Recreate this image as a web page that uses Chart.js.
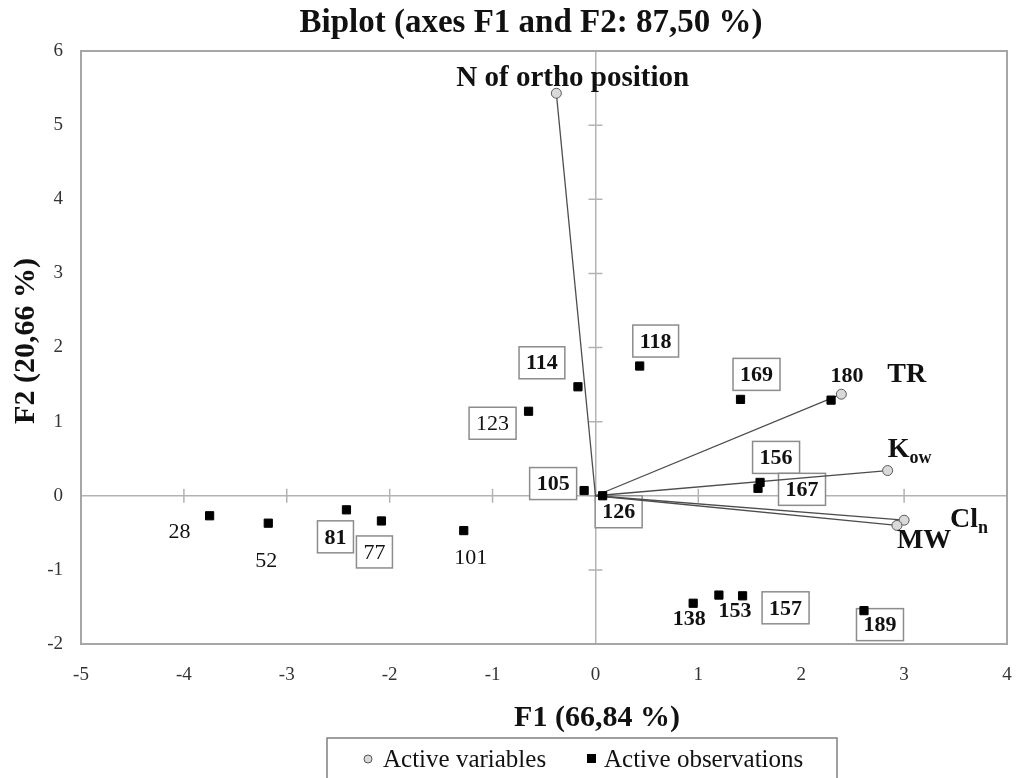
<!DOCTYPE html>
<html>
<head>
<meta charset="utf-8">
<script src="https://cdn.jsdelivr.net/npm/chart.js@4.4.1/dist/chart.umd.min.js"></script>
<style>
  html, body { margin: 0; padding: 0; background: #fff; }
  canvas { display: block; }
</style>
</head>
<body>
<canvas id="biplot" width="1016" height="778"></canvas>
<script>
const SERIF = '"Liberation Serif", "Times New Roman", serif';

// observations
const obsLabels = ["28", "52", "81", "77", "101", "123", "114", "118", "105", "126", "169", "180", "156", "167", "138", "153", "157", "189"];
const obsF1 = [-3.75, -3.18, -2.42, -2.08, -1.28, -0.65, -0.17, 0.43, -0.11, 0.07, 1.41, 2.29, 1.60, 1.58, 0.95, 1.20, 1.43, 2.61];
const obsF2 = [-0.27, -0.37, -0.19, -0.34, -0.47, 1.14, 1.47, 1.75, 0.07, 0.00, 1.30, 1.29, 0.18, 0.10, -1.45, -1.34, -1.35, -1.55];

// variables
const varNames = ["N of ortho position", "TR", "K", "Cl", "MW"];
const varSubs = ["", "", "ow", "n", ""];
const varF1 = [-0.38, 2.39, 2.84, 3.00, 2.93];
const varF2 = [5.43, 1.37, 0.34, -0.33, -0.40];

const xTicks = [-5, -4, -3, -2, -1, 0, 1, 2, 3, 4];
const yTicks = [-2, -1, 0, 1, 2, 3, 4, 5, 6];

// label placement (pixel offsets from the point) and style
const obsLabelStyle = {
  "28":  { dx: -30, dy: 15, box: false, bold: false },
  "52":  { dx: -2,  dy: 37, box: false, bold: false },
  "81":  { dx: -11, dy: 27, box: true,  bold: true },
  "77":  { dx: -7,  dy: 31, box: true,  bold: false },
  "101": { dx: 7,   dy: 27, box: false, bold: false },
  "123": { dx: -36, dy: 12, box: true,  bold: false },
  "114": { dx: -36, dy: -24, box: true, bold: true },
  "118": { dx: 16,  dy: -25, box: true, bold: true },
  "105": { dx: -31, dy: -7, box: true,  bold: true },
  "126": { dx: 16,  dy: 16, box: true,  bold: true },
  "169": { dx: 16,  dy: -25, box: true, bold: true },
  "180": { dx: 16,  dy: -25, box: false, bold: true },
  "156": { dx: 16,  dy: -25, box: true, bold: true },
  "167": { dx: 44,  dy: 1,  box: true,  bold: true },
  "138": { dx: -4,  dy: 15, box: false, bold: true },
  "153": { dx: 16,  dy: 15, box: false, bold: true },
  "157": { dx: 43,  dy: 12, box: true,  bold: true },
  "189": { dx: 16,  dy: 14, box: true,  bold: true }
};
// left / baseline offsets for the variable names
const varLabelPos = [
  { dx: -100, dy: -7, size: 29 },
  { dx: 46, dy: -12, size: 28 },
  { dx: 0, dy: -14, size: 28 },
  { dx: 46, dy: 7, size: 28 },
  { dx: 0, dy: 23, size: 28 }
];

const obsPoints = obsF1.map((v, i) => ({ x: v, y: obsF2[i] }));
const varPoints = varF1.map((v, i) => ({ x: v, y: varF2[i] }));

const vectorSets = varPoints.map(p => ({
  type: "line",
  data: [{ x: 0, y: 0 }, p],
  borderColor: "#4d4d4d",
  borderWidth: 1.3,
  pointRadius: 0,
  showLine: true,
  order: 3
}));

const biplotDecor = {
  id: "biplotDecor",
  beforeDatasetsDraw(chart) {
    const { ctx, chartArea: a, scales: { x, y } } = chart;
    const x0 = x.getPixelForValue(0), y0 = y.getPixelForValue(0);
    ctx.save();
    ctx.strokeStyle = "#b3b3b3";
    ctx.lineWidth = 1.5;
    ctx.beginPath();
    yTicks.forEach(v => {
      const py = y.getPixelForValue(v);
      ctx.moveTo(x0 - 7, py); ctx.lineTo(x0 + 7, py);
    });
    xTicks.forEach(v => {
      const px = x.getPixelForValue(v);
      ctx.moveTo(px, y0 - 7); ctx.lineTo(px, y0 + 7);
    });
    ctx.stroke();
    ctx.strokeStyle = "#a6a6a6";
    ctx.lineWidth = 2;
    ctx.strokeRect(a.left, a.top, a.right - a.left, a.bottom - a.top);

    // observation labels (under the marks)
    ctx.textAlign = "center";
    ctx.textBaseline = "middle";
    obsLabels.forEach((lab, i) => {
      const s = obsLabelStyle[lab];
      const cx = x.getPixelForValue(obsF1[i]) + s.dx;
      const cy = y.getPixelForValue(obsF2[i]) + s.dy;
      ctx.font = (s.bold ? "bold " : "") + "22px " + SERIF;
      const w = ctx.measureText(lab).width;
      if (s.box) {
        ctx.fillStyle = "#fff";
        ctx.fillRect(cx - w / 2 - 7, cy - 16, w + 14, 32);
        ctx.strokeStyle = "#8c8c8c";
        ctx.lineWidth = 1.5;
        ctx.strokeRect(cx - w / 2 - 7, cy - 16, w + 14, 32);
      }
      ctx.fillStyle = "#111";
      ctx.fillText(lab, cx, cy + 1);
    });
    ctx.restore();
  },
  afterDatasetsDraw(chart) {
    const { ctx, scales: { x, y } } = chart;
    ctx.save();
    ctx.textAlign = "left";
    ctx.textBaseline = "alphabetic";
    ctx.fillStyle = "#111";
    varNames.forEach((name, i) => {
      const p = varLabelPos[i];
      const px = x.getPixelForValue(varF1[i]) + p.dx;
      const py = y.getPixelForValue(varF2[i]) + p.dy;
      ctx.font = "bold " + p.size + "px " + SERIF;
      ctx.fillText(name, px, py);
      if (varSubs[i]) {
        const w = ctx.measureText(name).width;
        ctx.font = "bold 18px " + SERIF;
        ctx.fillText(varSubs[i], px + w, py + 6);
      }
    });
    ctx.restore();
  },
  afterDraw(chart) {
    const { ctx } = chart;
    ctx.save();
    ctx.fillStyle = "#111";
    ctx.textAlign = "center";
    ctx.textBaseline = "middle";
    ctx.font = "bold 33px " + SERIF;
    ctx.fillText("Biplot (axes F1 and F2: 87,50 %)", 531, 23);
    ctx.font = "bold 30px " + SERIF;
    ctx.fillText("F1 (66,84 %)", 597, 718);
    ctx.save();
    ctx.translate(26, 341);
    ctx.rotate(-Math.PI / 2);
    ctx.fillText("F2 (20,66 %)", 0, 0);
    ctx.restore();
    // legend
    ctx.strokeStyle = "#808080";
    ctx.lineWidth = 1.5;
    ctx.strokeRect(327, 738, 510, 50);
    ctx.beginPath();
    ctx.arc(368, 759, 4, 0, Math.PI * 2);
    ctx.fillStyle = "#d9d9d9";
    ctx.fill();
    ctx.strokeStyle = "#595959";
    ctx.lineWidth = 1;
    ctx.stroke();
    ctx.fillStyle = "#000";
    ctx.fillRect(587, 754, 9, 9);
    ctx.fillStyle = "#111";
    ctx.textAlign = "left";
    ctx.textBaseline = "alphabetic";
    ctx.font = "25px " + SERIF;
    ctx.fillText("Active variables", 383, 767);
    ctx.fillText("Active observations", 604, 767);
    ctx.restore();
  }
};

new Chart(document.getElementById("biplot").getContext("2d"), {
  type: "scatter",
  data: {
    datasets: [
      {
        label: "Active variables",
        data: varPoints,
        pointStyle: "circle",
        pointRadius: 5,
        pointBackgroundColor: "#d9d9d9",
        pointBorderColor: "#595959",
        pointBorderWidth: 1,
        order: 1
      },
      {
        label: "Active observations",
        data: obsPoints,
        pointStyle: "rect",
        pointRadius: 5.8,
        pointBackgroundColor: "#000",
        pointBorderColor: "#000",
        pointBorderWidth: 1,
        order: 2
      },
      ...vectorSets
    ]
  },
  options: {
    responsive: false,
    animation: false,
    layout: { padding: { top: 51, right: 9, left: 0, bottom: 0 } },
    plugins: {
      legend: { display: false },
      title: { display: false },
      tooltip: { enabled: false }
    },
    scales: {
      x: {
        type: "linear",
        min: -5,
        max: 4,
        afterBuildTicks: s => { s.ticks = xTicks.map(v => ({ value: v })); },
        afterFit: s => { s.height = 134; s.paddingLeft = 0; s.paddingRight = 0; },
        grid: {
          drawTicks: false,
          color: c => (c.tick && c.tick.value === 0 ? "#b3b3b3" : "rgba(0,0,0,0)"),
          lineWidth: 1.5
        },
        border: { display: false },
        ticks: { padding: 20, color: "#333", font: { family: SERIF, size: 19 } }
      },
      y: {
        type: "linear",
        min: -2,
        max: 6,
        afterBuildTicks: s => { s.ticks = yTicks.map(v => ({ value: v })); },
        afterFit: s => { s.width = 81; s.paddingTop = 0; s.paddingBottom = 0; },
        grid: {
          drawTicks: false,
          color: c => (c.tick && c.tick.value === 0 ? "#b3b3b3" : "rgba(0,0,0,0)"),
          lineWidth: 1.5
        },
        border: { display: false },
        ticks: { padding: 18, color: "#333", font: { family: SERIF, size: 19 } }
      }
    }
  },
  plugins: [biplotDecor]
});
</script>
</body>
</html>
